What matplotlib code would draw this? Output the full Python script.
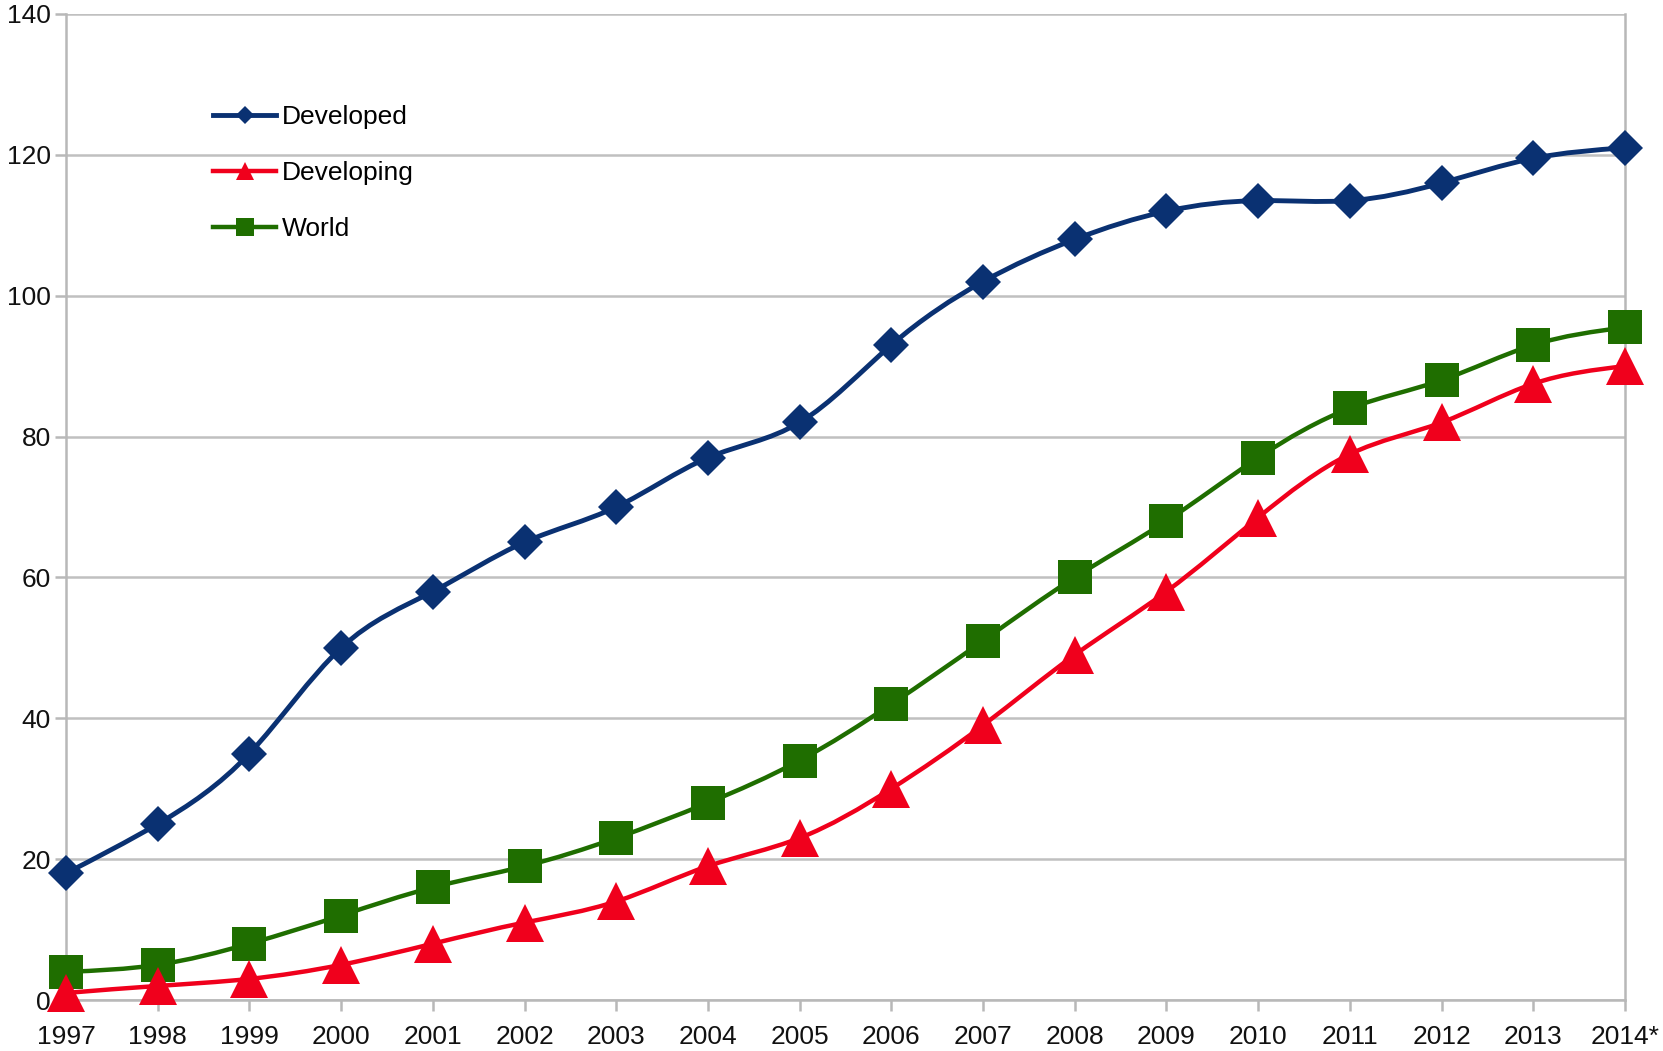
import numpy as np
import matplotlib
matplotlib.use('Agg')
import matplotlib.pyplot as plt
from matplotlib.path import Path
from matplotlib.patches import PathPatch
from matplotlib.lines import Line2D

plt.rcParams['font.family'] = ['Liberation Sans', 'DejaVu Sans']

years = ['1997', '1998', '1999', '2000', '2001', '2002', '2003', '2004', '2005',
         '2006', '2007', '2008', '2009', '2010', '2011', '2012', '2013', '2014*']
developed = [18, 25, 35, 50, 58, 65, 70, 77, 82, 93, 102, 108, 112, 113.5, 113.5, 116, 119.5, 121]
developing = [1, 2, 3, 5, 8, 11, 14, 19, 23, 30, 39, 49, 58, 68.5, 77.5, 82, 87.5, 90]
world = [4, 5, 8, 12, 16, 19, 23, 28, 34, 42, 51, 60, 68, 77, 84, 88, 93, 95.5]


# smooth curve through the points: natural cubic spline turned into bezier segments
def spline_path(x, y):
    x = np.asarray(x, float)
    y = np.asarray(y, float)
    n = len(x)
    h = np.diff(x)
    A = np.zeros((n, n))
    r = np.zeros(n)
    A[0, 0] = 1
    A[-1, -1] = 1
    for i in range(1, n - 1):
        A[i, i - 1] = h[i - 1]
        A[i, i] = 2 * (h[i - 1] + h[i])
        A[i, i + 1] = h[i]
        r[i] = 6 * ((y[i + 1] - y[i]) / h[i] - (y[i] - y[i - 1]) / h[i - 1])
    M = np.linalg.solve(A, r)
    d = np.zeros(n)
    for i in range(n - 1):
        d[i] = (y[i + 1] - y[i]) / h[i] - h[i] * (2 * M[i] + M[i + 1]) / 6
    d[-1] = (y[-1] - y[-2]) / h[-1] + h[-1] * (M[-2] + 2 * M[-1]) / 6
    verts = [(x[0], y[0])]
    codes = [Path.MOVETO]
    for i in range(n - 1):
        verts += [(x[i] + h[i] / 3, y[i] + d[i] * h[i] / 3),
                  (x[i + 1] - h[i] / 3, y[i + 1] - d[i + 1] * h[i] / 3),
                  (x[i + 1], y[i + 1])]
        codes += [Path.CURVE4] * 3
    return Path(verts, codes)


fig = plt.figure(figsize=(16.63, 10.51), dpi=100)
ax = fig.add_axes([0.0397, 0.0485, 0.9374, 0.9382])

xs = np.arange(len(years))
series = [
    ('Developed', developed, '#0a3172', 'D', 18.5, 3.5, 3),
    ('World', world, '#1f6e00', 's', 25, 3.2, 4),
    ('Developing', developing, '#f0001c', '^', 27, 3.2, 5),
]
for name, vals, col, mk, ms, lw, z in series:
    patch = PathPatch(spline_path(xs, vals), facecolor='none', edgecolor=col,
                      lw=lw, zorder=z, clip_on=False, capstyle='round')
    ax.add_patch(patch)
    ax.plot(xs, vals, linestyle='none', marker=mk, markersize=ms, color=col,
            markeredgewidth=0, zorder=z, clip_on=False)

ax.set_xlim(0, len(years) - 1)
ax.set_ylim(0, 140)
ax.set_yticks(range(0, 141, 20))
ax.set_xticks(xs)
ax.set_xticklabels(years)
ax.grid(axis='y', color='#c0c0c0', lw=1.8, zorder=0)
ax.set_axisbelow(True)
for s in ['left', 'right', 'bottom', 'top']:
    ax.spines[s].set_color('#b8b8b8')
    ax.spines[s].set_linewidth(1.8)
ax.spines['top'].set_visible(False)
ax.tick_params(axis='both', colors='#b8b8b8', labelcolor='#111111', labelsize=19,
               width=1.8)
ax.tick_params(axis='y', length=8, pad=3)
ax.tick_params(axis='x', length=8, pad=10)

handles = [
    Line2D([], [], color='#0a3172', lw=3.5, marker='D', markersize=9.5, markeredgewidth=0),
    Line2D([], [], color='#f0001c', lw=3.2, marker='^', markersize=13, markeredgewidth=0),
    Line2D([], [], color='#1f6e00', lw=3.2, marker='s', markersize=13, markeredgewidth=0),
]
ax.legend(handles, ['Developed', 'Developing', 'World'], loc='upper left',
          bbox_to_anchor=(0.079, 0.932), frameon=False, fontsize=19,
          handlelength=2.4, handletextpad=0.2, labelspacing=1.22)

fig.savefig('out.png', dpi=100)
